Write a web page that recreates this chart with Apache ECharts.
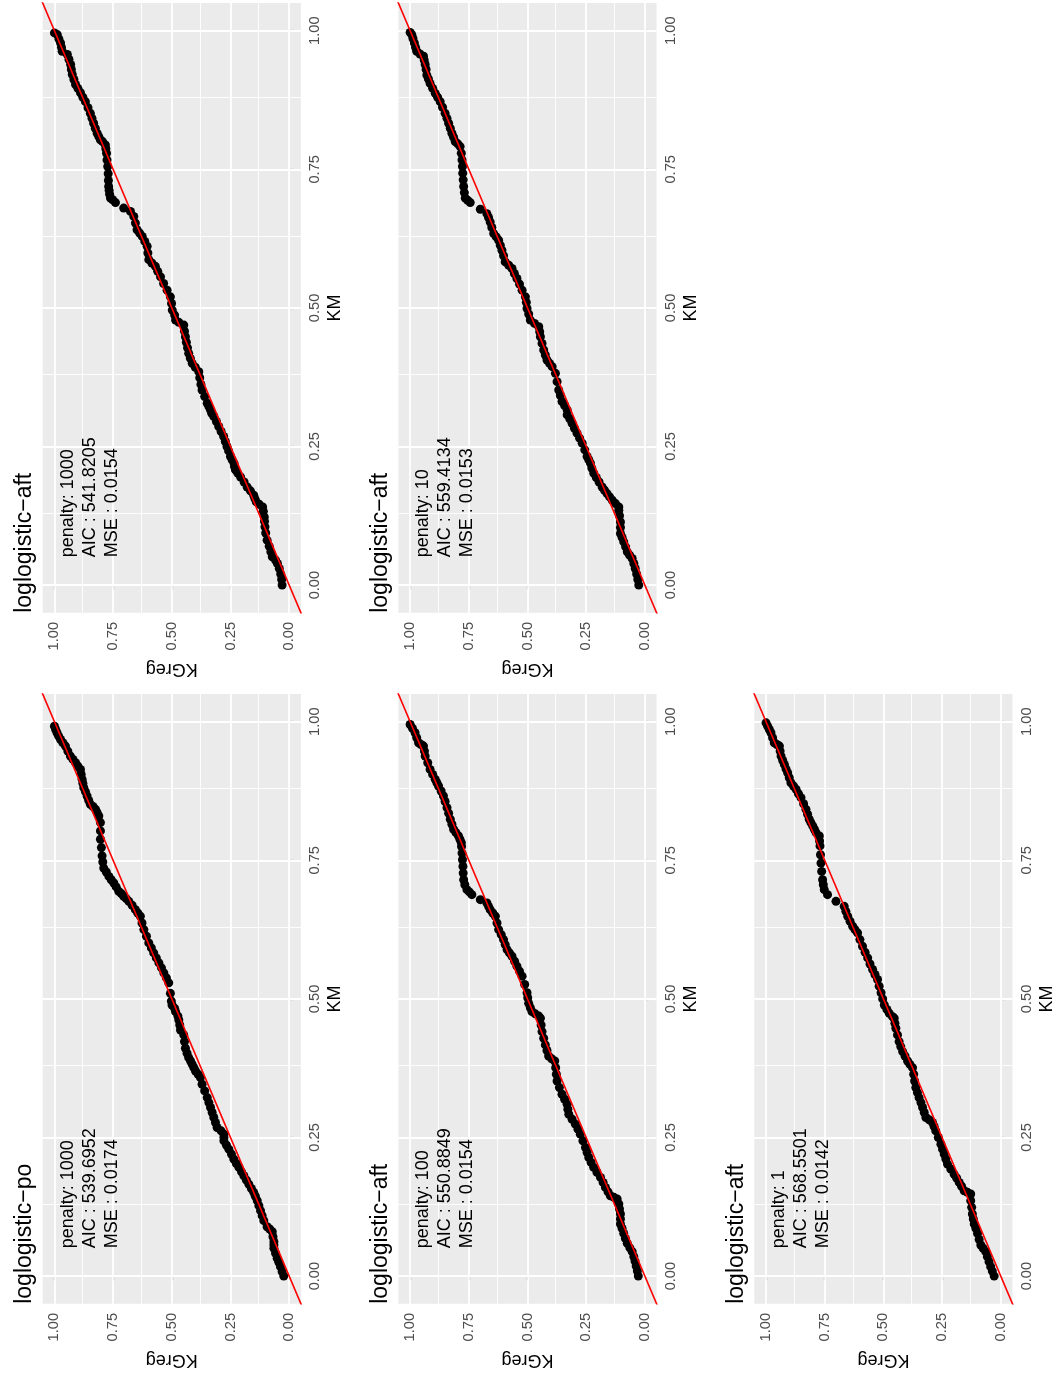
<!DOCTYPE html>
<html>
<head>
<meta charset="utf-8">
<script src="https://cdn.jsdelivr.net/npm/echarts@6/dist/echarts.min.js"></script>
<style>
  html, body { margin: 0; padding: 0; background: #ffffff; }
  #chart { width: 1059px; height: 1375px; }
</style>
</head>
<body>
<div id="chart"></div>
<script>
// Tick positions shared by both axes of every panel
const tickValues = [0, 0.25, 0.5, 0.75, 1];
const minorValues = [0.125, 0.375, 0.625, 0.875];

// Panel headings and fit statistics
const panelTitles = ['loglogistic−aft', 'loglogistic−aft', 'loglogistic−aft', 'loglogistic−po', 'loglogistic−aft'];
const penalties  = ['1000', '10', '100', '1000', '1'];
const aicValues  = ['541.8205', '559.4134', '550.8849', '539.6952', '568.5501'];
const mseValues  = ['0.0154', '0.0153', '0.0154', '0.0174', '0.0142'];

// Each point: [KM, KGreg]
const aft1000 = [
  [0.000,0.030],[0.010,0.032],[0.020,0.036],[0.030,0.042],[0.039,0.050],[0.045,0.058],[0.051,0.072],[0.060,0.078],
  [0.070,0.085],[0.081,0.094],[0.094,0.100],[0.105,0.103],[0.115,0.105],[0.123,0.106],[0.133,0.110],[0.141,0.113],
  [0.146,0.128],[0.150,0.140],[0.156,0.146],[0.162,0.151],[0.170,0.165],[0.177,0.179],[0.186,0.192],[0.195,0.207],
  [0.202,0.219],[0.208,0.229],[0.214,0.233],[0.220,0.235],[0.226,0.243],[0.232,0.250],[0.242,0.258],[0.250,0.265],
  [0.259,0.272],[0.268,0.279],[0.277,0.290],[0.286,0.300],[0.295,0.310],[0.304,0.321],[0.310,0.330],[0.316,0.335],
  [0.322,0.342],[0.328,0.349],[0.340,0.360],[0.352,0.371],[0.362,0.376],[0.374,0.381],[0.385,0.385],[0.393,0.400],
  [0.400,0.413],[0.409,0.421],[0.418,0.428],[0.428,0.433],[0.438,0.438],[0.448,0.442],[0.458,0.446],[0.469,0.449],
  [0.474,0.470],[0.478,0.484],[0.487,0.488],[0.496,0.498],[0.508,0.501],[0.520,0.506],[0.532,0.520],[0.544,0.535],
  [0.556,0.548],[0.566,0.560],[0.575,0.570],[0.581,0.585],[0.587,0.598],[0.599,0.602],[0.611,0.605],[0.620,0.615],
  [0.629,0.626],[0.635,0.637],[0.641,0.648],[0.653,0.655],[0.665,0.662],[0.674,0.676],[0.680,0.705],[0.690,0.740],
  [0.695,0.752],[0.698,0.761],[0.705,0.765],[0.712,0.767],[0.719,0.769],[0.730,0.770],[0.742,0.771],[0.755,0.773],
  [0.767,0.776],[0.779,0.778],[0.787,0.781],[0.794,0.783],[0.800,0.795],[0.803,0.804],[0.809,0.811],[0.815,0.818],
  [0.824,0.826],[0.833,0.833],[0.842,0.840],[0.851,0.847],[0.861,0.857],[0.872,0.868],[0.880,0.879],[0.888,0.889],
  [0.896,0.900],[0.903,0.910],[0.912,0.917],[0.921,0.924],[0.930,0.928],[0.939,0.931],[0.948,0.938],[0.957,0.945],
  [0.963,0.967],[0.970,0.970],[0.978,0.974],[0.985,0.981],[0.993,0.988],[0.996,1.000]
];

const aft10 = [
  [0.000,0.026],[0.010,0.030],[0.020,0.035],[0.030,0.041],[0.039,0.047],[0.048,0.054],[0.054,0.065],[0.060,0.075],
  [0.069,0.082],[0.078,0.090],[0.086,0.097],[0.093,0.104],[0.104,0.104],[0.114,0.104],[0.125,0.108],[0.135,0.111],
  [0.141,0.111],[0.147,0.125],[0.153,0.139],[0.159,0.150],[0.165,0.161],[0.171,0.172],[0.177,0.182],[0.186,0.195],
  [0.194,0.207],[0.202,0.218],[0.211,0.226],[0.220,0.232],[0.226,0.239],[0.232,0.246],[0.244,0.256],[0.256,0.267],
  [0.265,0.278],[0.274,0.289],[0.283,0.300],[0.292,0.310],[0.300,0.320],[0.307,0.331],[0.316,0.331],[0.324,0.342],
  [0.331,0.353],[0.342,0.360],[0.352,0.367],[0.367,0.374],[0.382,0.381],[0.394,0.395],[0.400,0.406],[0.406,0.417],
  [0.415,0.424],[0.424,0.431],[0.436,0.438],[0.448,0.445],[0.457,0.448],[0.466,0.452],[0.472,0.470],[0.478,0.488],
  [0.489,0.495],[0.499,0.502],[0.510,0.505],[0.520,0.509],[0.532,0.523],[0.543,0.534],[0.553,0.545],[0.562,0.556],
  [0.571,0.566],[0.577,0.580],[0.583,0.595],[0.594,0.602],[0.604,0.609],[0.613,0.616],[0.622,0.623],[0.628,0.633],
  [0.634,0.644],[0.645,0.652],[0.655,0.659],[0.663,0.666],[0.670,0.673],[0.678,0.701],[0.690,0.744],[0.694,0.755],
  [0.698,0.765],[0.708,0.769],[0.719,0.772],[0.731,0.774],[0.743,0.776],[0.755,0.777],[0.767,0.779],[0.779,0.782],
  [0.791,0.787],[0.796,0.797],[0.800,0.808],[0.808,0.815],[0.815,0.822],[0.824,0.829],[0.833,0.836],[0.842,0.843],
  [0.851,0.851],[0.862,0.862],[0.872,0.872],[0.880,0.883],[0.887,0.893],[0.896,0.904],[0.905,0.915],[0.913,0.922],
  [0.920,0.929],[0.930,0.932],[0.939,0.936],[0.947,0.940],[0.954,0.943],[0.958,0.958],[0.963,0.972],[0.970,0.977],
  [0.978,0.982],[0.986,0.988],[0.993,0.993],[0.997,1.000]
];

const aft100 = [
  [0.000,0.028],[0.009,0.032],[0.018,0.037],[0.027,0.042],[0.035,0.047],[0.044,0.054],[0.051,0.064],[0.059,0.075],
  [0.068,0.083],[0.077,0.090],[0.086,0.097],[0.094,0.104],[0.103,0.104],[0.112,0.104],[0.121,0.108],[0.130,0.111],
  [0.139,0.118],[0.142,0.132],[0.145,0.147],[0.152,0.157],[0.160,0.168],[0.169,0.178],[0.178,0.189],[0.187,0.204],
  [0.196,0.218],[0.205,0.229],[0.214,0.239],[0.223,0.246],[0.232,0.253],[0.244,0.264],[0.256,0.275],[0.265,0.285],
  [0.274,0.296],[0.283,0.310],[0.292,0.324],[0.301,0.328],[0.310,0.331],[0.319,0.342],[0.328,0.353],[0.340,0.364],
  [0.352,0.374],[0.364,0.377],[0.376,0.380],[0.388,0.384],[0.392,0.397],[0.397,0.410],[0.407,0.417],[0.417,0.424],
  [0.429,0.431],[0.441,0.438],[0.453,0.442],[0.465,0.445],[0.469,0.452],[0.473,0.467],[0.477,0.481],[0.484,0.488],
  [0.492,0.495],[0.502,0.499],[0.511,0.502],[0.526,0.512],[0.541,0.523],[0.550,0.534],[0.559,0.545],[0.568,0.555],
  [0.577,0.566],[0.583,0.577],[0.589,0.587],[0.598,0.595],[0.607,0.602],[0.616,0.612],[0.625,0.623],[0.637,0.630],
  [0.649,0.637],[0.655,0.648],[0.661,0.659],[0.667,0.666],[0.673,0.673],[0.679,0.701],[0.688,0.737],[0.693,0.748],
  [0.697,0.758],[0.706,0.767],[0.715,0.772],[0.727,0.774],[0.739,0.775],[0.751,0.777],[0.763,0.779],[0.775,0.781],
  [0.782,0.782],[0.788,0.788],[0.794,0.794],[0.800,0.805],[0.806,0.815],[0.815,0.822],[0.824,0.829],[0.835,0.836],
  [0.845,0.843],[0.856,0.851],[0.866,0.858],[0.875,0.868],[0.884,0.879],[0.890,0.886],[0.896,0.893],[0.905,0.904],
  [0.914,0.915],[0.926,0.925],[0.938,0.936],[0.947,0.939],[0.956,0.943],[0.959,0.954],[0.962,0.964],[0.971,0.972],
  [0.980,0.979],[0.988,0.990],[0.995,1.000]
];

const po1000 = [
  [0.000,0.023],[0.008,0.030],[0.017,0.037],[0.025,0.044],[0.032,0.051],[0.041,0.058],[0.050,0.065],[0.056,0.065],
  [0.062,0.065],[0.071,0.069],[0.080,0.072],[0.085,0.083],[0.089,0.094],[0.100,0.108],[0.109,0.115],[0.118,0.122],
  [0.127,0.129],[0.136,0.136],[0.144,0.144],[0.151,0.151],[0.158,0.161],[0.166,0.172],[0.173,0.182],[0.181,0.193],
  [0.188,0.203],[0.196,0.214],[0.203,0.225],[0.211,0.236],[0.220,0.246],[0.229,0.257],[0.236,0.267],[0.244,0.278],
  [0.250,0.278],[0.256,0.278],[0.262,0.290],[0.268,0.307],[0.277,0.314],[0.286,0.321],[0.295,0.328],[0.304,0.335],
  [0.313,0.342],[0.322,0.349],[0.334,0.360],[0.346,0.371],[0.358,0.378],[0.364,0.388],[0.370,0.399],[0.376,0.406],
  [0.382,0.413],[0.388,0.420],[0.394,0.428],[0.402,0.435],[0.411,0.442],[0.423,0.446],[0.435,0.449],[0.444,0.463],
  [0.453,0.466],[0.462,0.470],[0.469,0.474],[0.477,0.484],[0.483,0.488],[0.489,0.499],[0.496,0.502],[0.510,0.506],
  [0.529,0.513],[0.538,0.523],[0.547,0.534],[0.556,0.544],[0.565,0.555],[0.574,0.566],[0.583,0.577],[0.592,0.587],
  [0.601,0.598],[0.613,0.608],[0.625,0.619],[0.637,0.627],[0.649,0.634],[0.655,0.645],[0.661,0.655],[0.669,0.669],
  [0.676,0.683],[0.681,0.694],[0.685,0.705],[0.690,0.715],[0.694,0.726],[0.702,0.737],[0.709,0.747],[0.715,0.758],
  [0.721,0.768],[0.729,0.779],[0.736,0.790],[0.747,0.794],[0.758,0.797],[0.773,0.800],[0.788,0.804],[0.803,0.804],
  [0.818,0.804],[0.830,0.811],[0.836,0.818],[0.842,0.825],[0.847,0.836],[0.851,0.847],[0.858,0.854],[0.866,0.861],
  [0.874,0.868],[0.881,0.875],[0.889,0.879],[0.896,0.882],[0.905,0.886],[0.914,0.889],[0.920,0.900],[0.926,0.910],
  [0.932,0.921],[0.938,0.932],[0.947,0.943],[0.956,0.953],[0.962,0.964],[0.968,0.974],[0.974,0.982],[0.980,0.989],
  [0.986,0.995],[0.992,1.000]
];

const aft1 = [
  [0.000,0.028],[0.009,0.036],[0.017,0.043],[0.026,0.050],[0.035,0.057],[0.044,0.064],[0.050,0.075],[0.056,0.085],
  [0.066,0.092],[0.077,0.099],[0.086,0.106],[0.094,0.113],[0.103,0.117],[0.112,0.121],[0.124,0.124],[0.136,0.128],
  [0.148,0.128],[0.151,0.142],[0.154,0.156],[0.162,0.167],[0.169,0.177],[0.177,0.188],[0.184,0.199],[0.193,0.213],
  [0.202,0.227],[0.211,0.234],[0.220,0.241],[0.229,0.248],[0.238,0.255],[0.250,0.266],[0.262,0.277],[0.270,0.284],
  [0.277,0.291],[0.282,0.305],[0.286,0.319],[0.295,0.326],[0.304,0.333],[0.313,0.340],[0.322,0.348],[0.331,0.355],
  [0.340,0.362],[0.352,0.367],[0.364,0.371],[0.376,0.376],[0.382,0.387],[0.388,0.397],[0.397,0.408],[0.405,0.418],
  [0.414,0.426],[0.423,0.433],[0.435,0.440],[0.447,0.447],[0.456,0.451],[0.465,0.454],[0.468,0.461],[0.474,0.475],
  [0.481,0.485],[0.489,0.496],[0.500,0.503],[0.511,0.510],[0.523,0.518],[0.535,0.525],[0.544,0.536],[0.553,0.546],
  [0.563,0.557],[0.574,0.567],[0.584,0.578],[0.595,0.589],[0.607,0.600],[0.619,0.610],[0.625,0.621],[0.631,0.631],
  [0.640,0.642],[0.649,0.652],[0.658,0.660],[0.667,0.667],[0.676,0.702],[0.688,0.738],[0.697,0.752],[0.706,0.756],
  [0.715,0.759],[0.730,0.763],[0.745,0.766],[0.760,0.768],[0.776,0.770],[0.785,0.772],[0.794,0.773],[0.800,0.787],
  [0.806,0.794],[0.812,0.801],[0.818,0.809],[0.824,0.816],[0.833,0.823],[0.842,0.830],[0.852,0.840],[0.863,0.851],
  [0.870,0.862],[0.878,0.872],[0.884,0.883],[0.890,0.894],[0.899,0.901],[0.908,0.908],[0.915,0.915],[0.923,0.922],
  [0.930,0.929],[0.938,0.936],[0.947,0.940],[0.956,0.943],[0.959,0.954],[0.962,0.965],[0.971,0.972],[0.980,0.979],
  [0.986,0.986],[0.992,0.993],[0.998,1.000]
];

// Facet layout (pixels): three columns, two rows
const FONT = '"Liberation Sans", Arial, Helvetica, sans-serif';
const colLeft = [42.7, 398.4, 754.3];
const rowTop = [3, 694];
const panelW = 258.2;
const panelH = 609.8;
const AXIS_MIN = -0.05, AXIS_MAX = 1.05;

const panelData = [aft1000, aft10, aft100, po1000, aft1];
const panelCell = [[0, 0], [1, 0], [1, 1], [0, 1], [2, 1]]; // [column, row]

const chart = echarts.init(document.getElementById('chart'), null, { renderer: 'canvas' });

const grid = [], xAxis = [], yAxis = [], series = [];
const fmt = v => v.toFixed(2);

panelData.forEach((pts, i) => {
  const [c, r] = panelCell[i];
  grid.push({
    left: colLeft[c], top: rowTop[r], width: panelW, height: panelH,
    show: true, backgroundColor: '#EBEBEB', borderWidth: 0
  });
  // KGreg runs horizontally, 1 on the left
  xAxis.push({
    gridIndex: i, type: 'value', inverse: true, position: 'bottom',
    min: AXIS_MIN, max: AXIS_MAX,
    axisLine: { show: false },
    splitLine: { show: false },
    axisTick: { show: true, customValues: tickValues, length: 4.5, lineStyle: { color: '#333333', width: 1.1 } },
    axisLabel: { show: true, customValues: tickValues, rotate: 90, margin: 9, color: '#4D4D4D',
                 fontSize: 14.7, fontFamily: FONT, formatter: fmt }
  });
  // KM runs vertically, labelled on the right
  yAxis.push({
    gridIndex: i, type: 'value', position: 'right',
    min: AXIS_MIN, max: AXIS_MAX,
    axisLine: { show: false },
    splitLine: { show: false },
    axisTick: { show: true, customValues: tickValues, length: 4.5, lineStyle: { color: '#333333', width: 1.1 } },
    axisLabel: { show: true, customValues: tickValues, rotate: 90, margin: 7, color: '#4D4D4D',
                 fontSize: 14.7, fontFamily: FONT, formatter: fmt }
  });

  // panel grid lines, kept beneath the points
  const minorStyle = { color: '#FFFFFF', width: 0.9, type: 'solid' };
  const majorStyle = { color: '#FFFFFF', width: 1.8, type: 'solid' };
  series.push({
    type: 'scatter', xAxisIndex: i, yAxisIndex: i, data: [], silent: true, z: 1,
    markLine: {
      z: 1, silent: true, animation: false, symbol: ['none', 'none'], label: { show: false },
      emphasis: { disabled: true },
      data: [
        ...minorValues.map(v => ({ xAxis: v, lineStyle: minorStyle })),
        ...minorValues.map(v => ({ yAxis: v, lineStyle: minorStyle })),
        ...tickValues.map(v => ({ xAxis: v, lineStyle: majorStyle })),
        ...tickValues.map(v => ({ yAxis: v, lineStyle: majorStyle }))
      ]
    }
  });

  // KGreg vs KM points
  series.push({
    type: 'scatter', xAxisIndex: i, yAxisIndex: i, z: 3,
    data: pts.map(p => [p[1], p[0]]),
    symbol: 'circle', symbolSize: 9,
    itemStyle: { color: '#000000', opacity: 1 },
    silent: true, animation: false
  });

  // identity reference line
  series.push({
    type: 'line', xAxisIndex: i, yAxisIndex: i, z: 4,
    data: [[-0.2, -0.2], [1.2, 1.2]],
    clip: true, showSymbol: false, symbol: 'none', silent: true, animation: false,
    lineStyle: { color: '#FF0000', width: 1.6 }
  });
});

chart.setOption({ animation: false, grid, xAxis, yAxis, series });

// Titles, axis names and statistics text (all read bottom-to-top)
const graphic = [];
panelData.forEach((pts, i) => {
  const [c, r] = panelCell[i];
  const left = colLeft[c], top = rowTop[r];
  const right = left + panelW, bottom = top + panelH;

  graphic.push({
    type: 'text', x: left - 18, y: bottom, rotation: Math.PI / 2, silent: true, z: 100,
    style: { text: panelTitles[i], font: '23px ' + FONT, fill: '#000000',
             textAlign: 'left', textVerticalAlign: 'middle' }
  });
  graphic.push({
    type: 'text', x: right + 34.5, y: top + panelH / 2, rotation: Math.PI / 2, silent: true, z: 100,
    style: { text: 'KM', font: '18px ' + FONT, fill: '#000000',
             textAlign: 'center', textVerticalAlign: 'middle' }
  });
  graphic.push({
    type: 'text', x: left + panelW / 2, y: bottom + 56.5, rotation: Math.PI, silent: true, z: 100,
    style: { text: 'KGreg', font: '18px ' + FONT, fill: '#000000',
             textAlign: 'center', textVerticalAlign: 'middle' }
  });

  const anchor = chart.convertToPixel({ gridIndex: i }, [0.85, 0.05]);
  graphic.push({
    type: 'text', x: anchor[0], y: anchor[1], rotation: Math.PI / 2, silent: true, z: 100,
    style: {
      text: 'penalty: ' + penalties[i] + '\nAIC : ' + aicValues[i] + '\nMSE : ' + mseValues[i],
      font: '18px ' + FONT, fill: '#000000', lineHeight: 22,
      textAlign: 'left', textVerticalAlign: 'middle'
    }
  });
});

chart.setOption({ graphic });
</script>
</body>
</html>
